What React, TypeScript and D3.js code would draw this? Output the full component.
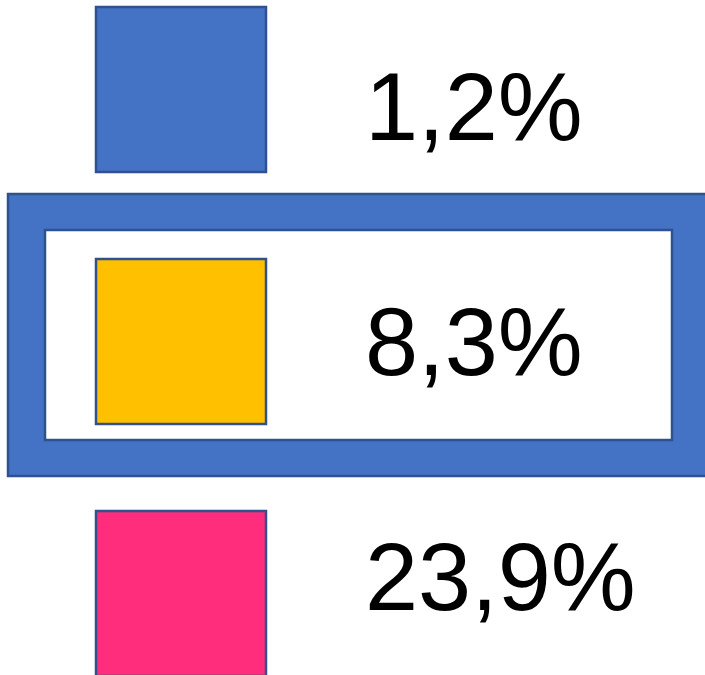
import React from "react";
import * as d3 from "d3";

const labels = ["1,2%", "8,3%", "23,9%"];
const values = [1.2, 8.3, 23.9];
const colors = ["#4472C4", "#FFC000", "#FF2D7B"];
const highlightIndex = 1;

export default function App() {
  const idx = d3.range(values.length);
  const squareY = d3.scaleLinear().domain([0, 1]).range([7, 259]);
  const textY = d3.scaleLinear().domain([0, 1]).range([140, 375]);
  const sqX = 96;
  const sqW = 170;
  const sqH = 165;
  const stroke = "#2F528F";
  const hy = squareY(highlightIndex);
  return (
    <svg
      width={705}
      height={675}
      style={{ position: "absolute", left: 0, top: 0, display: "block" }}
    >
      <rect x={0} y={0} width={705} height={675} fill="#ffffff" />
      <rect x={8} y={hy - 65} width={710} height={282} fill="#4472C4" stroke={stroke} strokeWidth={2.5} />
      <rect x={45} y={hy - 29} width={627} height={210} fill="#ffffff" stroke={stroke} strokeWidth={2.5} />
      {idx.map((i) => (
        <g key={i}>
          <rect
            x={sqX}
            y={squareY(i)}
            width={sqW}
            height={sqH}
            fill={colors[i]}
            stroke={stroke}
            strokeWidth={2.5}
          />
          <text
            x={365}
            y={textY(i)}
            fontFamily="'Liberation Sans', Arial, sans-serif"
            fontSize={95.5}
            fill="#000000"
          >
            {labels[i]}
          </text>
        </g>
      ))}
    </svg>
  );
}
